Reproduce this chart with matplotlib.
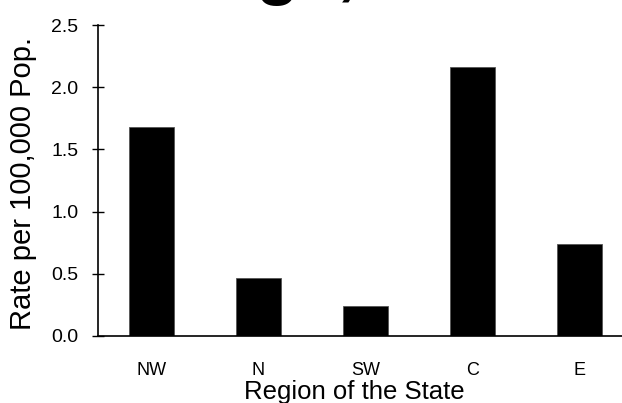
import matplotlib
matplotlib.use("Agg")
import matplotlib.pyplot as plt

regions = ["NW", "N", "SW", "C", "E"]
rates = [1.68, 0.47, 0.24, 2.16, 0.74]
y_ticks = [0.0, 0.5, 1.0, 1.5, 2.0, 2.5]

plt.rcParams["font.family"] = ["Liberation Sans", "DejaVu Sans"]

fig = plt.figure(figsize=(6.22, 4.03), dpi=100)
ax = fig.add_axes([98 / 622, 1 - 336 / 403, 1 - 98 / 622, (336 - 25) / 403])

x = list(range(len(regions)))
ax.bar(x, rates, width=0.42, color="black", edgecolor="#555555", linewidth=0.6)

ax.set_xlim(-0.5, 4.4)
ax.set_ylim(0, 2.5)
ax.set_yticks(y_ticks)
ax.set_yticklabels([f"{v:.1f}" for v in y_ticks], fontsize=14)
ax.set_xticks(x)
ax.set_xticklabels(regions, fontsize=13)
ax.tick_params(axis="y", direction="inout", length=8, width=1, pad=10)
ax.tick_params(axis="x", length=0, pad=19)

for side in ("top", "right"):
    ax.spines[side].set_visible(False)
ax.spines["left"].set_linewidth(1.2)
ax.spines["bottom"].set_linewidth(1.2)

ax.set_ylabel("Rate per 100,000 Pop.", fontsize=21, va="center")
ax.yaxis.set_label_coords(-0.143, 0.49)
ax.set_xlabel("Region of the State", fontsize=18.5, va="top")
ax.xaxis.set_label_coords(0.49, -0.14)

# Title sits mostly above the top edge of the figure
fig.text(-37 / 622, 1.02, "Poisonings, 2005", fontsize=50,
         fontweight="bold", ha="left", va="baseline")

fig.savefig("out.png", dpi=100)
